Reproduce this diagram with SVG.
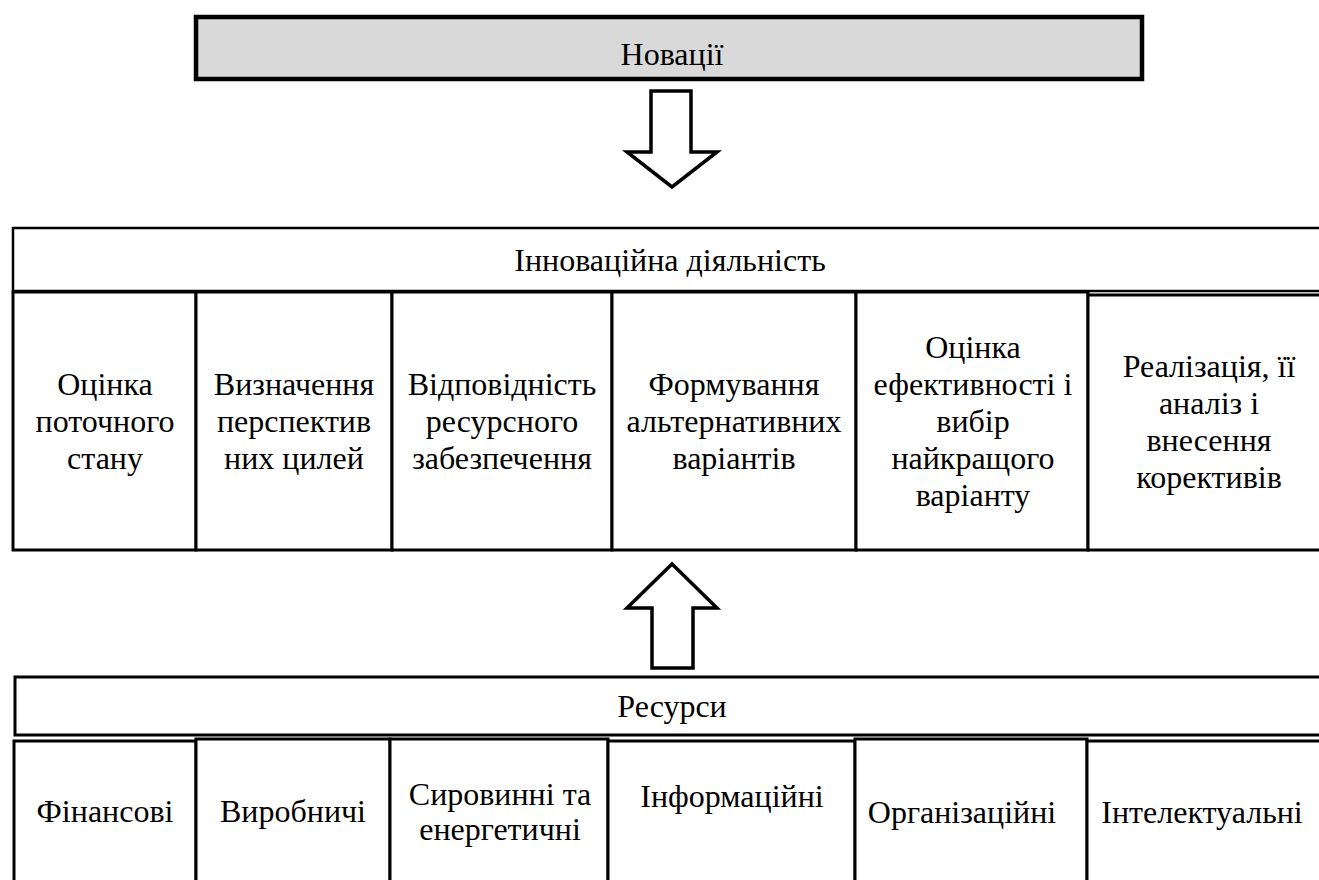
<svg xmlns="http://www.w3.org/2000/svg" width="1319" height="880" viewBox="0 0 1319 880">
<style>
.t{font-family:"Liberation Serif","Times New Roman",serif;font-size:32px;fill:#000;text-anchor:middle}
.box{fill:#fff;stroke:#000;stroke-width:3}
.hdr{fill:#fff;stroke:#000;stroke-width:2.5}
.arr{fill:#fff;stroke:#000;stroke-width:3.5;stroke-linejoin:miter}
</style>
<rect width="1319" height="880" fill="#fff"/>
<g id="novatsii">
<rect x="196" y="17" width="946" height="62" fill="#d9d9d9" stroke="#000" stroke-width="4.5"/>
<text class="t" x="672" y="65">Новації</text>
</g>
<g id="connectors">
<path class="arr" d="M651,91 H691 V152 H717 L672,187 L627,152 H651 Z"/>
<path class="arr" d="M652,668 H693 V608 H717 L672,564 L627,608 H652 Z"/>
</g>
<g id="innov">
<rect class="hdr" x="13" y="228" width="1320" height="63"/>
<text class="t" x="670" y="271">Інноваційна діяльність</text>
</g>
<g id="c1"><rect class="box" x="13" y="292" width="183" height="258"/>
<text class="t" x="105" y="395">Оцінка</text><text class="t" x="105" y="432">поточного</text><text class="t" x="105" y="469">стану</text></g>
<g id="c2"><rect class="box" x="196" y="292" width="196" height="258"/>
<text class="t" x="294" y="395">Визначення</text><text class="t" x="294" y="432">перспектив</text><text class="t" x="294" y="469">них цилей</text></g>
<g id="c3"><rect class="box" x="392" y="292" width="220" height="258"/>
<text class="t" x="502" y="395">Відповідність</text><text class="t" x="502" y="432">ресурсного</text><text class="t" x="502" y="469">забезпечення</text></g>
<g id="c4"><rect class="box" x="612" y="292" width="244" height="258"/>
<text class="t" x="734" y="395">Формування</text><text class="t" x="734" y="432">альтернативних</text><text class="t" x="734" y="469">варіантів</text></g>
<g id="c5"><rect class="box" x="856" y="292" width="232" height="258"/>
<text class="t" x="973" y="358">Оцінка</text><text class="t" x="973" y="395">ефективності і</text><text class="t" x="973" y="432">вибір</text><text class="t" x="973" y="469">найкращого</text><text class="t" x="973" y="506">варіанту</text></g>
<g id="c6"><rect class="box" x="1088" y="295" width="240" height="255"/>
<text class="t" x="1209" y="377">Реалізація, її</text><text class="t" x="1209" y="414">аналіз і</text><text class="t" x="1209" y="451">внесення</text><text class="t" x="1209" y="488">корективів</text></g>
<g id="resursy">
<rect class="box" x="15" y="677" width="1320" height="58"/>
<text class="t" x="672" y="717">Ресурси</text>
</g>
<g id="r1"><rect class="box" x="14" y="741" width="182" height="150"/>
<text class="t" x="105" y="822">Фінансові</text></g>
<g id="r2"><rect class="box" x="196" y="739" width="194" height="150"/>
<text class="t" x="293" y="822">Виробничі</text></g>
<g id="r3"><rect class="box" x="390" y="739" width="218" height="150"/>
<text class="t" x="500" y="805">Сировинні та</text><text class="t" x="500" y="840">енергетичні</text></g>
<g id="r4"><rect class="box" x="608" y="741" width="247" height="150"/>
<text class="t" x="732" y="807">Інформаційні</text></g>
<g id="r5"><rect class="box" x="855" y="739" width="232" height="150"/>
<text class="t" x="962" y="823">Організаційні</text></g>
<g id="r6"><rect class="box" x="1087" y="741" width="240" height="150"/>
<text class="t" x="1202" y="823">Інтелектуальні</text></g>
</svg>
